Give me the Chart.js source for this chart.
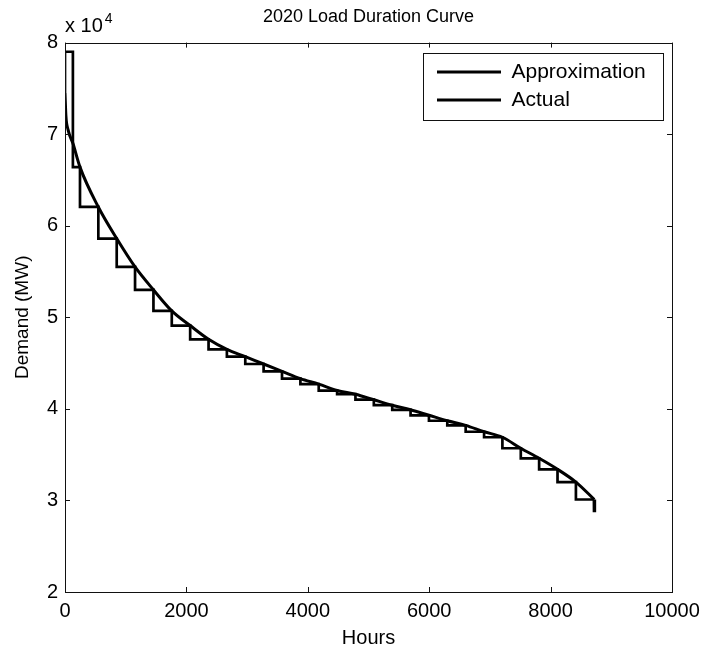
<!DOCTYPE html>
<html>
<head>
<meta charset="utf-8">
<title>2020 Load Duration Curve</title>
<script src="https://cdn.jsdelivr.net/npm/chart.js@4.4.1/dist/chart.umd.min.js"></script>
<style>
  body { margin: 0; background: #fff; }
  canvas { display: block; }
</style>
</head>
<body>
<canvas id="ldc" width="707" height="652"></canvas>
<script>
// step approximation: each level holds from its hour to the next one
const stepHours = [0, 0, 130, 247, 549, 852, 1154, 1457, 1759, 2062, 2365, 2667, 2970, 3272, 3575, 3878,
  4180, 4483, 4785, 5088, 5391, 5693, 5996, 6298, 6601, 6904, 7206, 7509, 7811, 8114, 8417, 8720];
const stepDemand = [74500, 79000, 66400, 62050, 58600, 55500, 53000, 50700, 49100, 47600, 46500, 45700,
  44900, 44100, 43300, 42700, 42000, 41600, 41000, 40400, 39900, 39300, 38700, 38200, 37500, 36900,
  35700, 34600, 33400, 32000, 30100, 30100];

// actual sorted hourly demand
const actualHours = [0, 15, 50, 130, 247, 549, 852, 1154, 1457, 1759, 2062, 2365, 2667, 2970, 3272, 3575,
  3878, 4180, 4483, 4785, 5088, 5391, 5693, 5996, 6298, 6601, 6904, 7206, 7509, 7811, 8114, 8417, 8720];
const actualDemand = [74500, 72000, 70500, 69000, 66400, 62050, 58600, 55500, 53000, 50700, 49100, 47600,
  46500, 45700, 44900, 44100, 43300, 42700, 42000, 41600, 41000, 40400, 39900, 39300, 38700, 38200,
  37500, 36900, 35700, 34600, 33400, 32000, 30100];
// last few hours fall off steeply
const tailHours = [8720, 8722];
const tailDemand = [30100, 28700];

const xTicks = [0, 2000, 4000, 6000, 8000, 10000];
const yTicks = [20000, 30000, 40000, 50000, 60000, 70000, 80000];

const FONT = '"Liberation Sans", Arial, Helvetica, sans-serif';

function pts(xs, ys) {
  return xs.map((x, i) => ({ x: x, y: ys[i] }));
}

// matlab style box: frame, inward ticks, exponent label, legend border
const boxPlugin = {
  id: 'box',
  afterLayout(chart) {
    const a = chart.chartArea;
    const lg = chart.legend;
    lg.left = a.right - 242;
    lg.top = a.top + 12;
    lg.right = lg.left + 240;
    lg.bottom = lg.top + 70;
    lg.width = 240;
    lg.height = 70;
  },
  afterDraw(chart) {
    const ctx = chart.ctx;
    const a = chart.chartArea;
    const xs = chart.scales.x, ys = chart.scales.y;
    const tl = 5;
    ctx.save();
    ctx.strokeStyle = '#111';
    ctx.lineWidth = 1;
    ctx.strokeRect(Math.round(a.left) + 0.5, Math.round(a.top) + 0.5,
      Math.round(a.right - a.left), Math.round(a.bottom - a.top));
    ctx.beginPath();
    xTicks.forEach(v => {
      const px = Math.round(xs.getPixelForValue(v)) + 0.5;
      ctx.moveTo(px, a.bottom); ctx.lineTo(px, a.bottom - tl);
      ctx.moveTo(px, a.top); ctx.lineTo(px, a.top + tl);
    });
    yTicks.forEach(v => {
      const py = Math.round(ys.getPixelForValue(v)) + 0.5;
      ctx.moveTo(a.left, py); ctx.lineTo(a.left + tl, py);
      ctx.moveTo(a.right, py); ctx.lineTo(a.right - tl, py);
    });
    ctx.stroke();

    // legend frame
    const lg = chart.legend;
    ctx.strokeRect(Math.round(lg.left - 7) + 0.5, Math.round(lg.top - 2) + 0.5, 240, 67);

    // x 10^4
    ctx.fillStyle = '#000';
    ctx.textBaseline = 'alphabetic';
    ctx.textAlign = 'left';
    ctx.font = '20px ' + FONT;
    ctx.fillText('x 10', a.left, 32);
    const w = ctx.measureText('x 10').width;
    ctx.font = '14px ' + FONT;
    ctx.fillText('4', a.left + w + 2, 23);
    ctx.restore();
  }
};

const line = {
  borderColor: '#000',
  backgroundColor: '#000',
  pointRadius: 0,
  fill: false
};

new Chart(document.getElementById('ldc'), {
  type: 'line',
  data: {
    datasets: [
      Object.assign({
        label: 'Approximation',
        data: pts(stepHours, stepDemand),
        stepped: true,
        borderWidth: 2.7
      }, line),
      Object.assign({
        label: 'Actual',
        data: pts(actualHours, actualDemand),
        cubicInterpolationMode: 'monotone',
        borderWidth: 3
      }, line),
      Object.assign({
        label: 'tail',
        data: pts(tailHours, tailDemand),
        borderWidth: 3.5
      }, line)
    ]
  },
  options: {
    responsive: false,
    animation: false,
    devicePixelRatio: 1,
    layout: { padding: { left: 0, right: 35, top: 0, bottom: 0 } },
    plugins: {
      title: {
        display: true,
        text: '2020 Load Duration Curve',
        color: '#000',
        fullSize: false,
        font: { family: FONT, size: 18, weight: 'normal' },
        padding: { top: 6, bottom: 15 }
      },
      legend: {
        position: 'chartArea',
        align: 'start',
        labels: {
          color: '#000',
          font: { family: FONT, size: 21 },
          boxWidth: 64,
          boxHeight: 3,
          padding: 7,
          generateLabels: (chart) => chart.data.datasets.slice(0, 2).map((d, i) => ({
            text: d.label,
            fillStyle: '#000',
            strokeStyle: '#000',
            lineWidth: 0,
            hidden: false,
            datasetIndex: i
          }))
        }
      },
      tooltip: { enabled: false }
    },
    scales: {
      x: {
        type: 'linear',
        min: 0,
        max: 10000,
        afterFit: (s) => { s.height = 60; },
        afterBuildTicks: (s) => { s.ticks = xTicks.map(v => ({ value: v })); },
        grid: { display: false, drawTicks: false },
        border: { display: false },
        ticks: {
          color: '#000',
          font: { family: FONT, size: 20 },
          padding: 7,
          maxRotation: 0,
          autoSkip: false,
          callback: (v) => String(v)
        },
        title: {
          display: true,
          text: 'Hours',
          color: '#000',
          font: { family: FONT, size: 20 },
          padding: { top: 0, bottom: 2 }
        }
      },
      y: {
        type: 'linear',
        min: 20000,
        max: 80000,
        afterFit: (s) => { s.width = 65; },
        afterBuildTicks: (s) => { s.ticks = yTicks.map(v => ({ value: v })); },
        grid: { display: false, drawTicks: false },
        border: { display: false },
        ticks: {
          color: '#000',
          font: { family: FONT, size: 20 },
          padding: 7,
          callback: (v) => String(v / 10000)
        },
        title: {
          display: true,
          text: 'Demand (MW)',
          color: '#000',
          font: { family: FONT, size: 19 },
          padding: { top: 11, bottom: 0 }
        }
      }
    }
  },
  plugins: [boxPlugin]
});
</script>
</body>
</html>
